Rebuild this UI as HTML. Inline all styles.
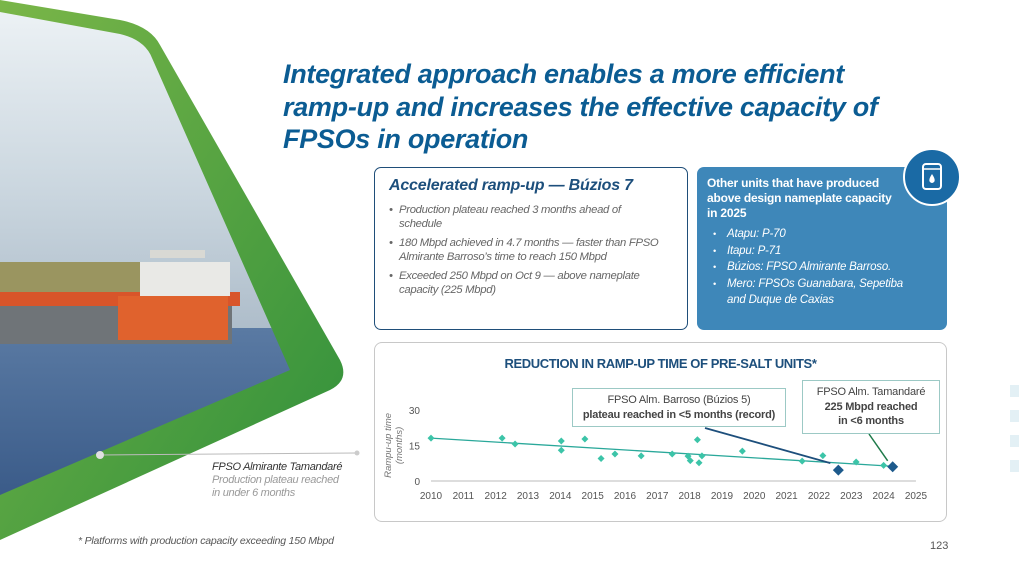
<!DOCTYPE html>
<html><head><meta charset="utf-8">
<style>
*{margin:0;padding:0;box-sizing:border-box}
body{width:1019px;height:573px;background:#fff;position:relative;overflow:hidden;font-family:"Liberation Sans",sans-serif}
.abs{position:absolute}
.title{left:283px;top:58px;font-size:27px;line-height:32.5px;font-weight:bold;font-style:italic;color:#0b5c93;letter-spacing:-0.3px}
.box1{left:374px;top:167px;width:314px;height:163px;border:1.5px solid #1f4e79;border-radius:7px;background:#fff}
.box1 h2{position:absolute;left:14px;top:9px;font-size:16px;font-style:italic;font-weight:bold;color:#1d4f7c;letter-spacing:-0.2px}
.box1 ul{position:absolute;left:14px;top:36px;width:272px;list-style:none;font-size:11.3px;font-style:italic;color:#666;line-height:13.5px;letter-spacing:-0.3px}
.box1 li{padding-left:10px;position:relative;margin-bottom:6px}
.box1 li:before{content:"•";position:absolute;left:0}
.box2{left:697px;top:167px;width:250px;height:163px;background:#3e87b9;border-radius:7px}
.box2 h3{position:absolute;left:10px;top:9px;width:192px;font-size:12px;font-weight:bold;color:#fff;line-height:15px;letter-spacing:-0.2px}
.box2 ul{position:absolute;left:16px;top:59px;list-style:none;font-size:11.5px;font-style:italic;color:#fff;line-height:16.5px;letter-spacing:-0.2px}
.box2 li{padding-left:14px;position:relative}
.box2 li:before{content:"•";position:absolute;left:0;font-size:9px}
.chartbox{left:374px;top:342px;width:573px;height:180px;border:1.5px solid #c8c8c8;border-radius:8px;background:#fff}
</style></head><body>

<svg class="abs" style="left:0;top:0" width="370" height="573">
<defs>
<linearGradient id="sky" x1="0" y1="0" x2="0" y2="1"><stop offset="0" stop-color="#eef3f6"/><stop offset="0.6" stop-color="#c9d5de"/><stop offset="1" stop-color="#aebdca"/></linearGradient>
<linearGradient id="sea" x1="0" y1="0" x2="0" y2="1"><stop offset="0" stop-color="#5a7aa3"/><stop offset="1" stop-color="#2b4c7c"/></linearGradient>
<linearGradient id="grn" x1="0" y1="0" x2="1" y2="1"><stop offset="0" stop-color="#7ab648"/><stop offset="1" stop-color="#2f8f3b"/></linearGradient>
<clipPath id="ph"><path d="M0,12 L120,34 Q145,40 152,58 L290,370 L0,495 Z"/></clipPath>
</defs>
<path d="M0,0 L120,20 Q150,26 160,45 L340,360 Q350,380 330,390 L0,540 Z" fill="url(#grn)"/>
<g clip-path="url(#ph)">
<rect x="0" y="0" width="370" height="330" fill="url(#sky)"/>
<rect x="0" y="328" width="370" height="250" fill="url(#sea)"/>
<rect x="0" y="262" width="150" height="36" fill="#9a9560"/>
<rect x="0" y="292" width="240" height="14" fill="#d8552a"/>
<rect x="0" y="306" width="232" height="38" fill="#6f7478"/>
<rect x="118" y="296" width="110" height="44" fill="#e0622d"/>
<rect x="140" y="262" width="90" height="34" fill="#e9e9e6"/>
<rect x="150" y="250" width="55" height="8" fill="#d9d9d4"/>
</g>
</svg>

<div class="abs title">Integrated approach enables a more efficient<br>ramp-up and increases the effective capacity of<br>FPSOs in operation</div>

<div class="abs box1">
<h2>Accelerated ramp-up — Búzios 7</h2>
<ul>
<li>Production plateau reached 3 months ahead of schedule</li>
<li>180 Mbpd achieved in 4.7 months — faster than FPSO Almirante Barroso’s time to reach 150 Mbpd</li>
<li>Exceeded 250 Mbpd on Oct 9 — above nameplate capacity (225 Mbpd)</li>
</ul>
</div>

<div class="abs box2">
<h3>Other units that have produced above design nameplate capacity in 2025</h3>
<ul>
<li>Atapu: P-70</li>
<li>Itapu: P-71</li>
<li>Búzios: FPSO Almirante Barroso.</li>
<li>Mero: FPSOs Guanabara, Sepetiba<br>and Duque de Caxias</li>
</ul>
</div>
<svg class="abs" style="left:902px;top:147px" width="60" height="60">
<circle cx="30" cy="30" r="28" fill="#1a6aa5" stroke="#fff" stroke-width="2"/>
<rect x="21" y="17" width="18" height="25" rx="3" fill="none" stroke="#fff" stroke-width="2"/>
<line x1="21" y1="22" x2="39" y2="22" stroke="#fff" stroke-width="1.5"/>
<path d="M30,27 Q26,33 28,35 Q30,37 32,35 Q34,33 30,27Z" fill="#fff"/>
</svg>

<div class="abs chartbox"></div>
<div class="abs" style="left:374px;top:356px;width:573px;text-align:center;font-size:13px;font-weight:bold;color:#1d4f7c;letter-spacing:-0.4px">REDUCTION IN RAMP-UP TIME OF PRE-SALT UNITS*</div>

<svg class="abs" style="left:374px;top:342px" width="573" height="180" id="chart"></svg>

<div class="abs" style="left:572px;top:388px;width:214px;height:39px;border:1.5px solid #9cc9c5;background:#fff;text-align:center;font-size:11px;color:#444;line-height:15px;padding-top:4px;letter-spacing:-0.2px">FPSO Alm. Barroso (Búzios 5)<br><b>plateau reached in &lt;5 months (record)</b></div>
<div class="abs" style="left:802px;top:380px;width:138px;height:54px;border:1.5px solid #9cc9c5;background:#fff;text-align:center;font-size:11px;color:#444;line-height:14.5px;padding-top:4px;letter-spacing:-0.2px">FPSO Alm. Tamandaré<br><b>225 Mbpd reached<br>in &lt;6 months</b></div>

<svg class="abs" style="left:90px;top:445px" width="280" height="20">
<line x1="10" y1="10" x2="267" y2="8" stroke="#bbb" stroke-width="1"/>
<circle cx="10" cy="10" r="4" fill="#e0e0e0"/><circle cx="267" cy="8" r="2.5" fill="#ccc"/>
</svg>
<div class="abs" style="left:212px;top:461px;font-size:11px;font-style:italic;line-height:13px;color:#555;letter-spacing:-0.3px"><span style="color:#333">FPSO Almirante Tamandaré</span><br><span style="color:#999">Production plateau reached<br>in under 6 months</span></div>

<div class="abs" style="left:78px;top:535px;font-size:10.5px;font-style:italic;color:#555;letter-spacing:-0.2px">* Platforms with production capacity exceeding 150 Mbpd</div>
<div class="abs" style="left:930px;top:540px;font-size:11px;color:#555">123</div>
<div class="abs" style="left:1010px;top:385px;width:9px;height:12px;background:#e3f0f5"></div>
<div class="abs" style="left:1010px;top:410px;width:9px;height:12px;background:#e3f0f5"></div>
<div class="abs" style="left:1010px;top:435px;width:9px;height:12px;background:#e3f0f5"></div>
<div class="abs" style="left:1010px;top:460px;width:9px;height:12px;background:#e3f0f5"></div>

<script>
const years=[2010,2011,2012,2013,2014,2015,2016,2017,2018,2019,2020,2021,2022,2023,2024,2025];
const yTicks=[0,15,30];
const ptYears=[2010.0,2012.2,2012.6,2014.03,2014.03,2014.76,2015.26,2015.69,2016.5,2017.46,2017.95,2018.02,2018.24,2018.29,2018.38,2019.63,2021.48,2022.12,2023.15,2024.0];
const ptMonths=[18.1,18.1,15.6,16.9,13,17.7,9.5,11.4,10.6,11.4,10.5,8.6,17.4,7.7,10.6,12.6,8.4,10.7,8,6.6];
const hiYears=[2022.6,2024.28];
const hiMonths=[4.6,6];
const trendYears=[2010,2024.3];
const trendMonths=[18.1,6.2];
const NS='http://www.w3.org/2000/svg';
const svg=document.getElementById('chart');
const X=y=>57+(y-2010)*32.33;
const Y=v=>139-v*2.37;
function mk(t,a){const e=document.createElementNS(NS,t);for(const k in a)e.setAttribute(k,a[k]);svg.appendChild(e);return e;}
let ax=mk('line',{x1:X(2010),x2:X(2025),y1:Y(0),y2:Y(0),stroke:'#bbb','stroke-width':1});


years.forEach(yr=>{const t=mk('text',{x:X(yr),y:157,'text-anchor':'middle','font-size':10,fill:'#555','font-family':'Liberation Sans'});t.textContent=yr;

});
yTicks.forEach(v=>{const t=mk('text',{x:46,y:Y(v)+4,'text-anchor':'end','font-size':10,fill:'#555','font-family':'Liberation Sans'});t.textContent=v;

});
const yt=mk('text',{transform:'translate(17,'+Y(15)+') rotate(-90)','text-anchor':'middle','font-size':9.5,'font-style':'italic',fill:'#777','font-family':'Liberation Sans'});
yt.innerHTML='<tspan x="0" dy="0">Rampu-up time</tspan><tspan x="0" dy="11">(months)</tspan>';


const tl=mk('line',{x1:X(trendYears[0]),y1:Y(trendMonths[0]),x2:X(trendYears[1]),y2:Y(trendMonths[1]),stroke:'#2aa89a','stroke-width':1.3});


function dia(x,y,r,c,name){const p=mk('path',{d:`M${x},${y-r}L${x+r},${y}L${x},${y+r}L${x-r},${y}Z`,fill:c});

}
ptYears.forEach((yr,i)=>dia(X(yr),Y(ptMonths[i]),3.5,'#3cc4a8','data-point'));
const a1=mk('line',{x1:331,y1:86,x2:X(hiYears[0])-8,y2:Y(hiMonths[0])-7,stroke:'#1d4f7c','stroke-width':1.8});


const a2=mk('line',{x1:495,y1:92,x2:X(hiYears[1])-5,y2:Y(hiMonths[1])-6,stroke:'#1f7a4a','stroke-width':1.5});


hiYears.forEach((yr,i)=>dia(X(yr),Y(hiMonths[i]),5.5,'#1d5a8c','highlight-point'));
</script>
</body></html>
